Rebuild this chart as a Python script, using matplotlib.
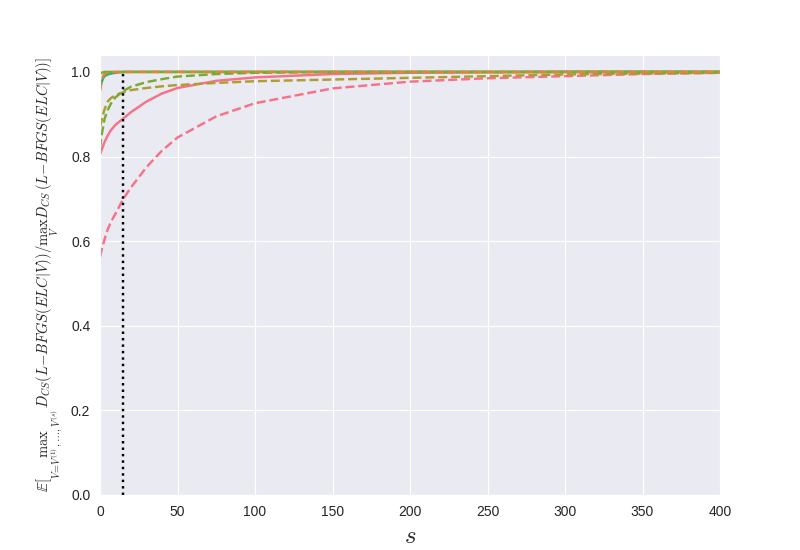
import matplotlib
matplotlib.use('Agg')
import matplotlib.pyplot as plt
import seaborn as sns

sns.set_style('darkgrid')
plt.rcParams['font.family'] = ['Liberation Sans', 'DejaVu Sans']
plt.rcParams['mathtext.fontset'] = 'cm'

# sample sizes s
s = [0, 1, 2, 3, 5, 7, 10, 15, 20, 30, 40, 50, 75, 100, 150, 200, 250, 300, 350, 400]

# curves
pink_solid = [0.806, 0.815, 0.825, 0.835, 0.85, 0.862, 0.875, 0.89, 0.905, 0.93, 0.949, 0.962,
              0.979, 0.987, 0.995, 0.998, 0.999, 1.0, 1.0, 1.0]
pink_dashed = [0.563, 0.578, 0.592, 0.605, 0.628, 0.645, 0.665, 0.70, 0.727, 0.775, 0.814, 0.845,
               0.895, 0.926, 0.961, 0.977, 0.985, 0.99, 0.995, 0.998]
olive_dashed = [0.87, 0.885, 0.9, 0.912, 0.93, 0.938, 0.945, 0.952, 0.957, 0.962, 0.966, 0.969,
                0.974, 0.978, 0.982, 0.986, 0.99, 0.994, 0.996, 0.998]
green_dashed = [0.82, 0.85, 0.87, 0.89, 0.91, 0.925, 0.94, 0.955, 0.965, 0.976, 0.983, 0.989,
                0.995, 0.998, 1.0, 1.0, 1.0, 1.0, 1.0, 1.0]
teal_solid = [0.96, 0.975, 0.985, 0.99, 0.994, 0.996, 0.998, 1.0, 1.0, 1.0, 1.0, 1.0,
              1.0, 1.0, 1.0, 1.0, 1.0, 1.0, 1.0, 1.0]
green_solid = [0.995, 0.998, 0.999, 1.0, 1.0, 1.0, 1.0, 1.0, 1.0, 1.0, 1.0, 1.0,
               1.0, 1.0, 1.0, 1.0, 1.0, 1.0, 1.0, 1.0]
orange_dashed = [0.955, 0.978, 0.99, 0.995, 0.998, 0.999, 1.0, 1.0, 1.0, 1.0, 1.0, 1.0,
                 1.0, 1.0, 1.0, 1.0, 1.0, 1.0, 1.0, 1.0]

s_mark = 15

pal = sns.color_palette('husl', 10)

fig = plt.figure(figsize=(8, 5.5), dpi=100)
ax = fig.add_axes([0.125, 0.1, 0.775, 0.8])

lw = 1.75
ax.plot(s, pink_solid, '-', color=pal[0], lw=lw)
ax.plot(s, pink_dashed, '--', color=pal[0], lw=lw)
ax.plot(s, olive_dashed, '--', color=pal[2], lw=lw)
ax.plot(s, green_dashed, '--', color=pal[3], lw=lw)
ax.plot(s, teal_solid, '-', color=pal[4], lw=lw)
ax.plot(s, green_solid, '-', color=pal[3], lw=lw)
ax.plot(s, orange_dashed, '--', color=pal[1], lw=lw)
ax.plot([s_mark, s_mark], [0, 1], ':', color='black', lw=lw)

ax.set_xlim(0, 400)
ax.set_ylim(0, 1.04)
ax.set_yticks([0.0, 0.2, 0.4, 0.6, 0.8, 1.0])
ax.tick_params(labelsize=10)

ax.set_xlabel(r'$s$', fontsize=18)
ax.set_ylabel(r'$\mathbb{E}[\max_{V=V^{(1)},\ldots,V^{(s)}}\, D_{CS}(L{-}BFGS(ELC|V))/\max_V D_{CS}(L{-}BFGS(ELC|V))]$',
              fontsize=10.5)

fig.savefig('out.png', dpi=100)
